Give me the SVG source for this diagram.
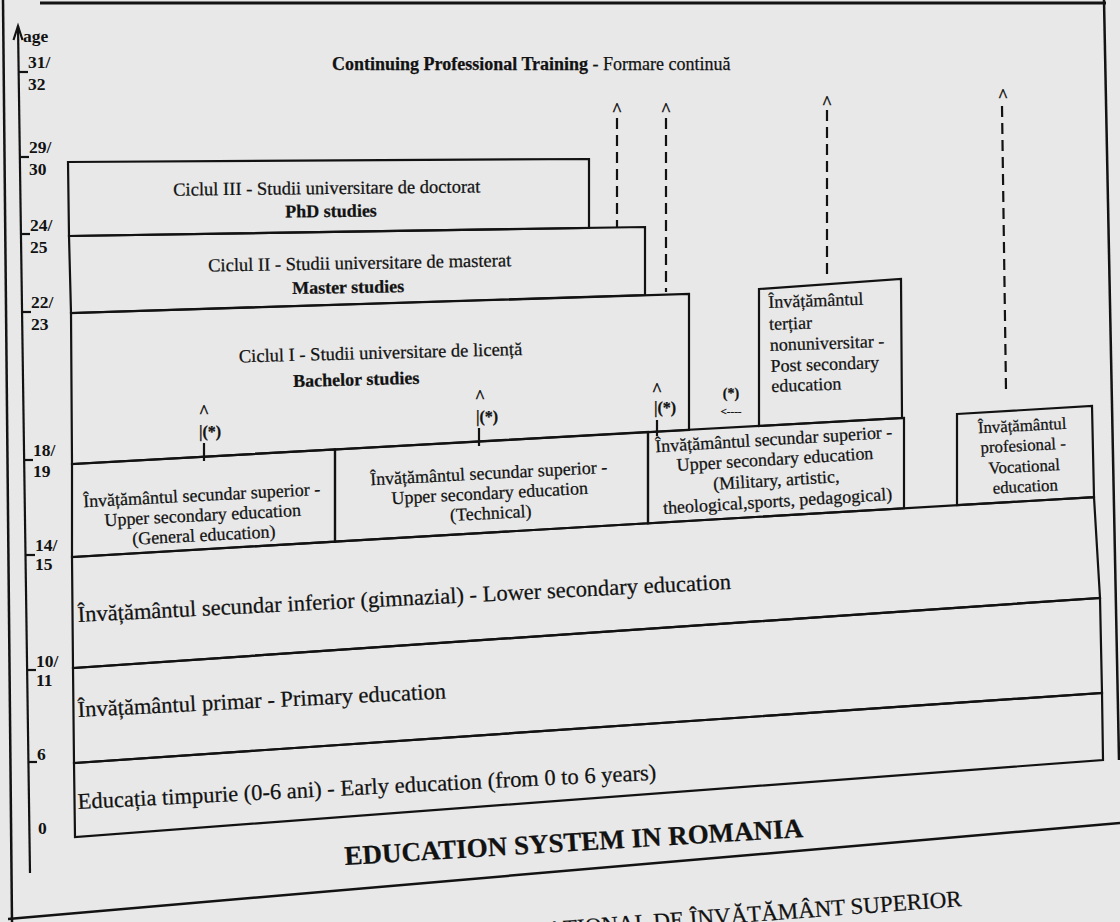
<svg xmlns="http://www.w3.org/2000/svg" width="1120" height="922" viewBox="0 0 1120 922">
<style>
.bx{fill:none;stroke:#121212;stroke-width:2.2;stroke-linejoin:miter}
.ln{fill:none;stroke:#121212;stroke-width:2.2}
.dash{fill:none;stroke:#121212;stroke-width:2.2;stroke-dasharray:11 6}
.t{font-family:"Liberation Serif","Times New Roman",serif;fill:#121212;stroke:#121212;stroke-width:0.25px;font-size:18px}
.c{text-anchor:middle}
.b{font-weight:bold}
.big{font-size:22.5px}
.sm{font-size:18px;font-weight:bold}
.st{font-size:16px;font-weight:bold}
.voc{font-size:16.8px}
.age{font-family:"Liberation Serif","Times New Roman",serif;font-weight:bold;font-size:17.5px;fill:#121212}
</style>
<rect width="1120" height="922" fill="#e8e8e8"/>

<g id="page-frame">
<line class="ln" x1="40" y1="3" x2="1106" y2="3" style="stroke-width:3"/>
<line class="ln" x1="3" y1="0" x2="12" y2="922" style="stroke-width:2.5"/>
<line class="ln" x1="1104" y1="0" x2="1119" y2="760" style="stroke-width:2.5"/>
<line class="ln" x1="8" y1="919" x2="1120" y2="823" style="stroke-width:2.5"/>
</g>

<g id="age-axis">
<line class="ln" x1="18" y1="26" x2="30" y2="873"/>
<polyline class="ln" points="13.5,40 18,26 22.5,40"/>
<text class="age" x="23" y="42">age</text>
<g class="ln">
<line x1="19" y1="72" x2="28" y2="72"/>
<line x1="20" y1="157" x2="29" y2="157"/>
<line x1="21" y1="234" x2="30" y2="234"/>
<line x1="22" y1="312" x2="31" y2="312"/>
<line x1="24" y1="460" x2="33" y2="460"/>
<line x1="26" y1="555" x2="35" y2="555"/>
<line x1="27" y1="670" x2="36" y2="670"/>
<line x1="28" y1="762" x2="37" y2="762"/>
</g>
<text class="age" x="28" y="68">31/</text><text class="age" x="28" y="90">32</text>
<text class="age" x="29" y="153">29/</text><text class="age" x="29" y="175">30</text>
<text class="age" x="30" y="231">24/</text><text class="age" x="30" y="253">25</text>
<text class="age" x="31" y="308">22/</text><text class="age" x="31" y="330">23</text>
<text class="age" x="33" y="456">18/</text><text class="age" x="33" y="477">19</text>
<text class="age" x="35" y="551">14/</text><text class="age" x="35" y="570">15</text>
<text class="age" x="36" y="667">10/</text><text class="age" x="36" y="686">11</text>
<text class="age" x="37" y="760">6</text>
<text class="age" x="38" y="834">0</text>
</g>

<g id="continuing-training">
<text class="t" x="332" y="70"><tspan class="b">Continuing Professional Training</tspan> - Formare continuă</text>
</g>

<g id="connectors">
<line class="dash" x1="617" y1="118" x2="617" y2="227"/>
<line class="dash" x1="666" y1="118" x2="666" y2="292"/>
<line class="dash" x1="827" y1="110" x2="827" y2="278"/>
<line class="dash" x1="1002" y1="106" x2="1006" y2="390"/>
<text class="t c sm" x="617" y="116">^</text>
<text class="t c sm" x="666" y="116">^</text>
<text class="t c sm" x="827" y="109">^</text>
<text class="t c sm" x="1003" y="102">^</text>
<line class="ln" x1="204" y1="443" x2="204" y2="461"/>
<line class="ln" x1="479" y1="428" x2="479" y2="446"/>
<line class="ln" x1="657" y1="420" x2="657" y2="436"/>
<text class="t c sm" x="204" y="418">^</text>
<text class="t st" x="199" y="437">|(*)</text>
<text class="t c sm" x="480" y="403">^</text>
<text class="t st" x="476" y="422">|(*)</text>
<text class="t c sm" x="657" y="396">^</text>
<text class="t st" x="654" y="413">|(*)</text>
<text class="t c b" x="731" y="398" style="font-size:14px">(*)</text>
<text class="t c b" x="731" y="415" style="font-size:11px">&lt;----</text>
</g>

<g id="phd">
<polygon class="bx" points="68,162 589,159 589,228 69,236"/>
<g transform="rotate(-0.6 330 205)">
<text class="t c" x="327" y="194" style="font-size:18.5px">Ciclul III - Studii universitare de doctorat</text>
<text class="t c b" x="331" y="217">PhD studies</text>
</g>
</g>

<g id="master">
<polygon class="bx" points="69,236 645,227 645,295 71,313"/>
<g transform="rotate(-1 355 280)">
<text class="t c" x="360" y="269" style="font-size:18.5px">Ciclul II - Studii universitare de masterat</text>
<text class="t c b" x="348" y="293">Master studies</text>
</g>
</g>

<g id="bachelor">
<polygon class="bx" points="71,313 689,294 689,430 72,464"/>
<g transform="rotate(-1.5 370 370)">
<text class="t c" x="381" y="359" style="font-size:18.5px">Ciclul I - Studii universitare de licență</text>
<text class="t c b" x="356" y="385">Bachelor studies</text>
</g>
</g>

<g id="post-secondary">
<polygon class="bx" points="759,289 901,279 902,418 759,426"/>
<g transform="rotate(-2 770 350)">
<text class="t" x="770" y="308">Învățământul</text>
<text class="t" x="770" y="330">terțiar</text>
<text class="t" x="770" y="351">nonuniversitar -</text>
<text class="t" x="770" y="372">Post secondary</text>
<text class="t" x="770" y="392">education</text>
</g>
</g>

<g id="upper-general">
<polygon class="bx" points="72,464 335,449.5 335,541.6 72,557"/>
<g transform="rotate(-3 203 521)">
<text class="t c" x="203" y="501">Învățământul secundar superior -</text>
<text class="t c" x="203" y="521">Upper secondary education</text>
<text class="t c" x="203" y="541">(General education)</text>
</g>
</g>

<g id="upper-technical">
<polygon class="bx" points="335,449.5 648,432 648,523.3 335,541.6"/>
<g transform="rotate(-3 490 499)">
<text class="t c" x="490" y="479">Învățământul secundar superior -</text>
<text class="t c" x="490" y="499">Upper secondary education</text>
<text class="t c" x="490" y="519">(Technical)</text>
</g>
</g>

<g id="upper-military">
<polygon class="bx" points="648,432 904,418 904,508.3 648,523.3"/>
<g transform="rotate(-3.5 776 476)">
<text class="t c" x="776" y="445">Învățământul secundar superior -</text>
<text class="t c" x="776" y="465">Upper secondary education</text>
<text class="t c" x="776" y="486">(Military, artistic,</text>
<text class="t c" x="776" y="507">theological,sports, pedagogical)</text>
</g>
</g>

<g id="vocational">
<polygon class="bx" points="957,414 1092,406 1094,497.2 957,505.2"/>
<g transform="rotate(-3 1024 462)">
<text class="t c voc" x="1024" y="431">Învățământul</text>
<text class="t c voc" x="1024" y="451">profesional -</text>
<text class="t c voc" x="1024" y="472">Vocational</text>
<text class="t c voc" x="1024" y="492">education</text>
</g>
</g>

<g id="lower-secondary">
<polygon class="bx" points="72,557 1094,497.2 1100,598 73,668"/>
<text class="t big" x="78" y="622" transform="rotate(-2.9 78 622)">Învățământul secundar inferior (gimnazial) - Lower secondary education</text>
</g>

<g id="primary">
<polygon class="bx" points="73,668 1100,598 1102,693 74,763"/>
<text class="t big" x="78" y="717" transform="rotate(-2.9 78 717)">Învățământul primar - Primary education</text>
</g>

<g id="early">
<polygon class="bx" points="74,763 1102,693 1103,760 75,837"/>
<text class="t big" x="78" y="809" transform="rotate(-2.9 78 809)">Educația timpurie (0-6 ani) - Early education (from 0 to 6 years)</text>
</g>

<g id="title">
<text class="t b" x="345" y="865" style="font-size:27px" transform="rotate(-3.5 345 865)">EDUCATION SYSTEM IN ROMANIA</text>
<text class="t" x="962" y="906" style="font-size:23px" text-anchor="end" transform="rotate(-4.3 962 906)">NAȚIONAL DE ÎNVĂȚĂMÂNT SUPERIOR</text>
</g>
</svg>
